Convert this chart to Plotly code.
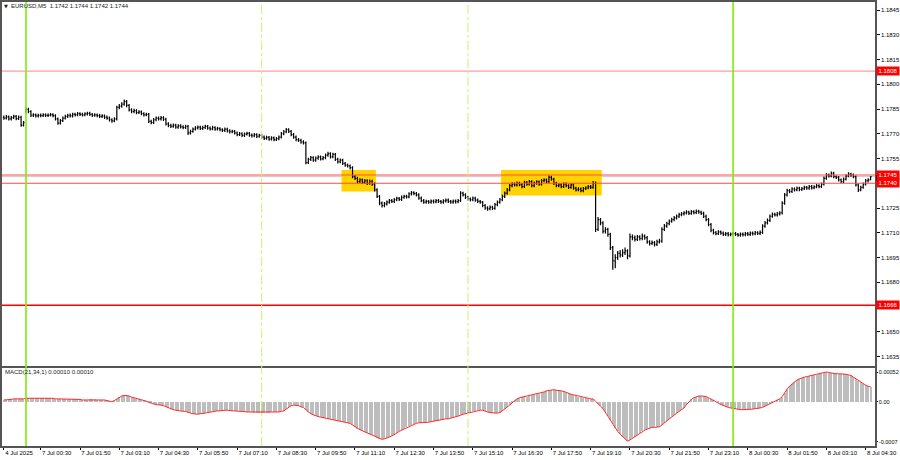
import pandas as pd
import plotly.graph_objects as go

# ---------------- data ----------------
times = [t.strftime("%Y-%m-%d %H:%M") for t in
         list(pd.date_range("2025-07-04 23:15", "2025-07-04 23:55", freq="5min")) +
         list(pd.date_range("2025-07-07 00:00", periods=345, freq="5min"))]

opn = [
1.17800,1.17795,1.17802,1.17790,1.17798,1.17805,1.17792,1.17800,1.17752,1.17835,
1.17848,1.17835,1.17812,1.17815,1.17808,1.17812,1.17810,1.17814,1.17811,1.17813,
1.17816,1.17810,1.17790,1.17765,1.17780,1.17795,1.17805,1.17812,1.17808,1.17818,
1.17815,1.17822,1.17818,1.17815,1.17820,1.17824,1.17818,1.17812,1.17815,1.17810,
1.17805,1.17808,1.17800,1.17795,1.17785,1.17778,1.17790,1.17860,1.17868,1.17880,
1.17895,1.17872,1.17845,1.17835,1.17840,1.17828,1.17832,1.17822,1.17815,1.17818,
1.17775,1.17768,1.17785,1.17795,1.17790,1.17798,1.17788,1.17760,1.17750,1.17745,
1.17752,1.17740,1.17748,1.17742,1.17738,1.17745,1.17705,1.17715,1.17728,1.17735,
1.17740,1.17732,1.17738,1.17745,1.17735,1.17730,1.17738,1.17728,1.17732,1.17725,
1.17720,1.17728,1.17718,1.17712,1.17715,1.17705,1.17695,1.17700,1.17690,1.17698,
1.17702,1.17692,1.17688,1.17695,1.17685,1.17690,1.17680,1.17672,1.17678,1.17668,
1.17675,1.17665,1.17670,1.17680,1.17700,1.17712,1.17725,1.17715,1.17695,1.17680,
1.17665,1.17660,1.17650,1.17645,1.17525,1.17545,1.17555,1.17540,1.17552,1.17560,
1.17548,1.17555,1.17570,1.17580,1.17560,1.17575,1.17545,1.17530,1.17540,1.17520,
1.17510,1.17505,1.17495,1.17440,1.17430,1.17410,1.17420,1.17405,1.17415,1.17400,
1.17412,1.17395,1.17360,1.17320,1.17280,1.17265,1.17275,1.17285,1.17295,1.17290,
1.17300,1.17308,1.17302,1.17315,1.17320,1.17318,1.17335,1.17342,1.17338,1.17330,
1.17310,1.17295,1.17285,1.17290,1.17285,1.17292,1.17288,1.17295,1.17290,1.17285,
1.17293,1.17298,1.17290,1.17285,1.17292,1.17288,1.17295,1.17340,1.17330,1.17315,
1.17305,1.17300,1.17310,1.17298,1.17290,1.17285,1.17265,1.17250,1.17245,1.17255,
1.17248,1.17270,1.17285,1.17300,1.17320,1.17340,1.17360,1.17385,1.17395,1.17390,
1.17400,1.17392,1.17380,1.17405,1.17395,1.17410,1.17385,1.17400,1.17408,1.17395,
1.17415,1.17420,1.17410,1.17435,1.17425,1.17400,1.17385,1.17390,1.17380,1.17395,
1.17385,1.17375,1.17390,1.17370,1.17360,1.17365,1.17355,1.17368,1.17372,1.17380,
1.17375,1.17400,1.17120,1.17180,1.17160,1.17110,1.17120,1.17090,1.17010,1.16930,
1.16950,1.16975,1.16965,1.16980,1.16990,1.16960,1.17075,1.17070,1.17060,1.17075,
1.17065,1.17080,1.17070,1.17045,1.17035,1.17040,1.17030,1.17045,1.17050,1.17120,
1.17140,1.17155,1.17170,1.17180,1.17190,1.17200,1.17210,1.17215,1.17220,1.17225,
1.17218,1.17228,1.17222,1.17230,1.17225,1.17218,1.17200,1.17180,1.17150,1.17115,
1.17100,1.17095,1.17105,1.17098,1.17090,1.17095,1.17088,1.17092,1.17095,1.17090,
1.17085,1.17092,1.17088,1.17095,1.17090,1.17098,1.17094,1.17100,1.17096,1.17102,
1.17140,1.17160,1.17175,1.17200,1.17212,1.17208,1.17215,1.17220,1.17280,1.17330,
1.17355,1.17350,1.17365,1.17360,1.17370,1.17362,1.17368,1.17375,1.17370,1.17380,
1.17372,1.17378,1.17385,1.17380,1.17395,1.17430,1.17450,1.17445,1.17460,1.17440,
1.17435,1.17420,1.17410,1.17425,1.17445,1.17455,1.17450,1.17440,1.17390,1.17360,
1.17375,1.17395,1.17415,1.17420]

high = [
1.17811,1.17813,1.17810,1.17808,1.17815,1.17813,1.17811,1.17809,1.17777,1.17861,
1.17857,1.17843,1.17825,1.17823,1.17821,1.17822,1.17824,1.17823,1.17822,1.17826,
1.17824,1.17818,1.17799,1.17790,1.17804,1.17815,1.17821,1.17822,1.17827,1.17828,
1.17832,1.17831,1.17827,1.17830,1.17834,1.17833,1.17826,1.17825,1.17823,1.17819,
1.17818,1.17816,1.17810,1.17804,1.17794,1.17800,1.17870,1.17880,1.17891,1.17907,
1.17904,1.17881,1.17855,1.17851,1.17849,1.17843,1.17841,1.17831,1.17828,1.17826,
1.17785,1.17795,1.17805,1.17804,1.17808,1.17806,1.17797,1.17769,1.17760,1.17762,
1.17761,1.17758,1.17757,1.17751,1.17755,1.17753,1.17725,1.17738,1.17745,1.17750,
1.17749,1.17748,1.17755,1.17753,1.17744,1.17748,1.17746,1.17742,1.17740,1.17734,
1.17738,1.17736,1.17727,1.17725,1.17723,1.17714,1.17710,1.17709,1.17708,1.17712,
1.17711,1.17701,1.17705,1.17703,1.17700,1.17699,1.17689,1.17688,1.17686,1.17685,
1.17683,1.17680,1.17690,1.17710,1.17722,1.17735,1.17734,1.17723,1.17704,1.17689,
1.17674,1.17669,1.17660,1.17653,1.17555,1.17565,1.17564,1.17562,1.17570,1.17568,
1.17565,1.17581,1.17591,1.17588,1.17585,1.17583,1.17554,1.17550,1.17548,1.17529,
1.17519,1.17514,1.17503,1.17450,1.17439,1.17430,1.17429,1.17425,1.17424,1.17422,
1.17421,1.17404,1.17369,1.17329,1.17290,1.17286,1.17295,1.17305,1.17304,1.17310,
1.17318,1.17317,1.17325,1.17330,1.17330,1.17345,1.17353,1.17351,1.17347,1.17339,
1.17319,1.17304,1.17300,1.17299,1.17302,1.17301,1.17305,1.17304,1.17299,1.17303,
1.17308,1.17307,1.17299,1.17302,1.17301,1.17305,1.17351,1.17349,1.17339,1.17324,
1.17314,1.17320,1.17318,1.17307,1.17299,1.17293,1.17274,1.17260,1.17265,1.17264,
1.17280,1.17295,1.17310,1.17330,1.17350,1.17371,1.17396,1.17406,1.17404,1.17411,
1.17409,1.17401,1.17415,1.17414,1.17420,1.17418,1.17410,1.17418,1.17417,1.17425,
1.17431,1.17429,1.17447,1.17445,1.17433,1.17409,1.17400,1.17399,1.17405,1.17404,
1.17394,1.17400,1.17398,1.17379,1.17375,1.17374,1.17378,1.17382,1.17390,1.17389,
1.17413,1.17410,1.17195,1.17190,1.17170,1.17133,1.17130,1.17100,1.17020,1.16970,
1.16990,1.16995,1.17000,1.17010,1.17000,1.17095,1.17090,1.17083,1.17087,1.17085,
1.17095,1.17090,1.17080,1.17055,1.17053,1.17050,1.17057,1.17063,1.17133,1.17153,
1.17167,1.17181,1.17191,1.17201,1.17211,1.17221,1.17226,1.17231,1.17237,1.17234,
1.17238,1.17237,1.17241,1.17239,1.17234,1.17227,1.17209,1.17189,1.17159,1.17124,
1.17110,1.17115,1.17114,1.17107,1.17105,1.17104,1.17102,1.17105,1.17104,1.17099,
1.17102,1.17101,1.17105,1.17104,1.17108,1.17107,1.17110,1.17109,1.17113,1.17151,
1.17171,1.17186,1.17211,1.17223,1.17221,1.17225,1.17231,1.17291,1.17341,1.17367,
1.17365,1.17375,1.17374,1.17380,1.17379,1.17378,1.17385,1.17384,1.17390,1.17389,
1.17388,1.17395,1.17394,1.17405,1.17441,1.17461,1.17459,1.17471,1.17469,1.17449,
1.17444,1.17429,1.17435,1.17455,1.17466,1.17464,1.17459,1.17449,1.17399,1.17385,
1.17405,1.17425,1.17430,1.17442]

low = [
1.17785,1.17786,1.17781,1.17780,1.17789,1.17782,1.17784,1.17743,1.17744,1.17825,
1.17825,1.17801,1.17802,1.17799,1.17798,1.17800,1.17801,1.17802,1.17801,1.17804,
1.17800,1.17780,1.17755,1.17756,1.17771,1.17786,1.17796,1.17798,1.17799,1.17805,
1.17806,1.17808,1.17805,1.17806,1.17811,1.17808,1.17802,1.17803,1.17800,1.17795,
1.17796,1.17790,1.17785,1.17775,1.17767,1.17769,1.17781,1.17849,1.17857,1.17870,
1.17861,1.17835,1.17825,1.17825,1.17818,1.17819,1.17812,1.17805,1.17806,1.17765,
1.17757,1.17759,1.17776,1.17780,1.17781,1.17778,1.17750,1.17740,1.17735,1.17736,
1.17730,1.17731,1.17732,1.17728,1.17729,1.17693,1.17695,1.17706,1.17719,1.17726,
1.17722,1.17723,1.17729,1.17725,1.17720,1.17721,1.17718,1.17719,1.17715,1.17710,
1.17711,1.17708,1.17702,1.17703,1.17695,1.17685,1.17686,1.17680,1.17681,1.17689,
1.17682,1.17678,1.17679,1.17675,1.17676,1.17670,1.17662,1.17663,1.17658,1.17659,
1.17655,1.17656,1.17661,1.17671,1.17691,1.17703,1.17705,1.17685,1.17670,1.17655,
1.17650,1.17640,1.17635,1.17515,1.17516,1.17535,1.17530,1.17531,1.17543,1.17538,
1.17539,1.17546,1.17561,1.17550,1.17551,1.17535,1.17520,1.17521,1.17510,1.17500,
1.17495,1.17483,1.17430,1.17419,1.17400,1.17401,1.17395,1.17396,1.17390,1.17391,
1.17385,1.17350,1.17310,1.17267,1.17253,1.17255,1.17265,1.17276,1.17280,1.17281,
1.17291,1.17292,1.17293,1.17306,1.17308,1.17309,1.17326,1.17328,1.17320,1.17300,
1.17285,1.17275,1.17276,1.17275,1.17276,1.17278,1.17279,1.17280,1.17275,1.17276,
1.17284,1.17280,1.17275,1.17276,1.17278,1.17279,1.17286,1.17320,1.17305,1.17295,
1.17290,1.17291,1.17288,1.17280,1.17275,1.17255,1.17239,1.17234,1.17236,1.17238,
1.17239,1.17261,1.17276,1.17291,1.17311,1.17331,1.17351,1.17376,1.17380,1.17381,
1.17382,1.17370,1.17371,1.17385,1.17386,1.17375,1.17376,1.17391,1.17385,1.17386,
1.17406,1.17400,1.17401,1.17415,1.17390,1.17375,1.17376,1.17370,1.17371,1.17375,
1.17365,1.17366,1.17360,1.17350,1.17351,1.17345,1.17346,1.17359,1.17363,1.17365,
1.17366,1.17105,1.17110,1.17145,1.17095,1.17095,1.17075,1.16995,1.16875,1.16885,
1.16935,1.16950,1.16953,1.16965,1.16940,1.16950,1.17055,1.17047,1.17050,1.17053,
1.17055,1.17057,1.17033,1.17023,1.17025,1.17017,1.17020,1.17035,1.17040,1.17110,
1.17130,1.17145,1.17160,1.17170,1.17180,1.17190,1.17200,1.17205,1.17210,1.17207,
1.17209,1.17212,1.17213,1.17215,1.17208,1.17190,1.17170,1.17140,1.17103,1.17089,
1.17085,1.17086,1.17088,1.17080,1.17081,1.17078,1.17079,1.17083,1.17080,1.17075,
1.17076,1.17078,1.17079,1.17080,1.17081,1.17084,1.17085,1.17086,1.17087,1.17093,
1.17130,1.17150,1.17165,1.17191,1.17198,1.17199,1.17205,1.17211,1.17270,1.17320,
1.17339,1.17341,1.17350,1.17351,1.17352,1.17353,1.17359,1.17360,1.17361,1.17362,
1.17363,1.17369,1.17370,1.17371,1.17386,1.17421,1.17435,1.17436,1.17430,1.17425,
1.17410,1.17400,1.17401,1.17416,1.17436,1.17440,1.17430,1.17380,1.17347,1.17351,
1.17366,1.17386,1.17405,1.17418]

close = [
1.17795,1.17802,1.17790,1.17798,1.17805,1.17792,1.17800,1.17752,1.17768,1.17848,
1.17835,1.17812,1.17815,1.17808,1.17812,1.17810,1.17814,1.17811,1.17813,1.17816,
1.17810,1.17790,1.17765,1.17780,1.17795,1.17805,1.17812,1.17808,1.17818,1.17815,
1.17822,1.17818,1.17815,1.17820,1.17824,1.17818,1.17812,1.17815,1.17810,1.17805,
1.17808,1.17800,1.17795,1.17785,1.17778,1.17790,1.17860,1.17868,1.17880,1.17895,
1.17872,1.17845,1.17835,1.17840,1.17828,1.17832,1.17822,1.17815,1.17818,1.17775,
1.17768,1.17785,1.17795,1.17790,1.17798,1.17788,1.17760,1.17750,1.17745,1.17752,
1.17740,1.17748,1.17742,1.17738,1.17745,1.17705,1.17715,1.17728,1.17735,1.17740,
1.17732,1.17738,1.17745,1.17735,1.17730,1.17738,1.17728,1.17732,1.17725,1.17720,
1.17728,1.17718,1.17712,1.17715,1.17705,1.17695,1.17700,1.17690,1.17698,1.17702,
1.17692,1.17688,1.17695,1.17685,1.17690,1.17680,1.17672,1.17678,1.17668,1.17675,
1.17665,1.17670,1.17680,1.17700,1.17712,1.17725,1.17715,1.17695,1.17680,1.17665,
1.17660,1.17650,1.17645,1.17525,1.17545,1.17555,1.17540,1.17552,1.17560,1.17548,
1.17555,1.17570,1.17580,1.17560,1.17575,1.17545,1.17530,1.17540,1.17520,1.17510,
1.17505,1.17495,1.17440,1.17430,1.17410,1.17420,1.17405,1.17415,1.17400,1.17412,
1.17395,1.17360,1.17320,1.17280,1.17265,1.17275,1.17285,1.17295,1.17290,1.17300,
1.17308,1.17302,1.17315,1.17320,1.17318,1.17335,1.17342,1.17338,1.17330,1.17310,
1.17295,1.17285,1.17290,1.17285,1.17292,1.17288,1.17295,1.17290,1.17285,1.17293,
1.17298,1.17290,1.17285,1.17292,1.17288,1.17295,1.17340,1.17330,1.17315,1.17305,
1.17300,1.17310,1.17298,1.17290,1.17285,1.17265,1.17250,1.17245,1.17255,1.17248,
1.17270,1.17285,1.17300,1.17320,1.17340,1.17360,1.17385,1.17395,1.17390,1.17400,
1.17392,1.17380,1.17405,1.17395,1.17410,1.17385,1.17400,1.17408,1.17395,1.17415,
1.17420,1.17410,1.17435,1.17425,1.17400,1.17385,1.17390,1.17380,1.17395,1.17385,
1.17375,1.17390,1.17370,1.17360,1.17365,1.17355,1.17368,1.17372,1.17380,1.17375,
1.17400,1.17120,1.17180,1.17160,1.17110,1.17120,1.17090,1.17010,1.16930,1.16950,
1.16975,1.16965,1.16980,1.16990,1.16960,1.17075,1.17070,1.17060,1.17075,1.17065,
1.17080,1.17070,1.17045,1.17035,1.17040,1.17030,1.17045,1.17050,1.17120,1.17140,
1.17155,1.17170,1.17180,1.17190,1.17200,1.17210,1.17215,1.17220,1.17225,1.17218,
1.17228,1.17222,1.17230,1.17225,1.17218,1.17200,1.17180,1.17150,1.17115,1.17100,
1.17095,1.17105,1.17098,1.17090,1.17095,1.17088,1.17092,1.17095,1.17090,1.17085,
1.17092,1.17088,1.17095,1.17090,1.17098,1.17094,1.17100,1.17096,1.17102,1.17140,
1.17160,1.17175,1.17200,1.17212,1.17208,1.17215,1.17220,1.17280,1.17330,1.17355,
1.17350,1.17365,1.17360,1.17370,1.17362,1.17368,1.17375,1.17370,1.17380,1.17372,
1.17378,1.17385,1.17380,1.17395,1.17430,1.17450,1.17445,1.17460,1.17440,1.17435,
1.17420,1.17410,1.17425,1.17445,1.17455,1.17450,1.17440,1.17390,1.17360,1.17375,
1.17395,1.17415,1.17420,1.17440]

macd = [
0.00003,0.00003,0.00004,0.00004,0.00005,0.00005,0.00005,0.00004,0.00005,0.00006,
0.00006,0.00007,0.00007,0.00007,0.00007,0.00007,0.00007,0.00006,0.00006,0.00006,0.00006,0.00005,0.00005,0.00005,
0.00004,0.00004,0.00004,0.00004,0.00004,0.00004,0.00004,0.00004,0.00003,0.00003,0.00003,0.00004,0.00004,0.00004,0.00003,0.00003,0.00003,0.00003,
0.00002,0.00001,0.00000,
0.00002,0.00005,0.00008,0.00010,0.00011,0.00011,
0.00010,0.00008,0.00007,0.00005,0.00004,0.00003,0.00002,0.00001,
-0.00001,-0.00003,-0.00004,-0.00005,-0.00005,-0.00006,-0.00007,-0.00009,
-0.00011,-0.00013,-0.00014,-0.00015,-0.00016,-0.00016,-0.00017,-0.00017,
-0.00019,-0.00020,-0.00021,-0.00022,-0.00022,-0.00021,-0.00021,
-0.00020,-0.00019,-0.00018,-0.00017,-0.00017,-0.00016,-0.00016,-0.00015,-0.00015,-0.00015,-0.00016,-0.00016,
-0.00016,-0.00017,-0.00017,-0.00017,-0.00018,-0.00018,-0.00018,-0.00018,-0.00019,-0.00019,-0.00019,
-0.00019,-0.00019,-0.00019,-0.00019,-0.00018,-0.00018,-0.00018,-0.00018,-0.00017,-0.00016,
-0.00013,-0.00010,-0.00007,-0.00006,-0.00006,-0.00007,-0.00009,-0.00010,
-0.00014,-0.00018,-0.00021,-0.00023,-0.00025,-0.00026,-0.00027,
-0.00028,-0.00029,-0.00030,-0.00031,-0.00032,-0.00032,-0.00033,-0.00034,-0.00035,-0.00036,-0.00037,-0.00038,
-0.00041,-0.00044,-0.00047,-0.00049,-0.00051,-0.00053,-0.00055,-0.00057,-0.00058,-0.00060,-0.00063,-0.00065,-0.00066,
-0.00065,-0.00064,-0.00062,-0.00060,-0.00058,-0.00055,-0.00052,-0.00050,-0.00047,-0.00045,-0.00043,-0.00041,-0.00039,-0.00038,
-0.00037,-0.00037,-0.00037,-0.00036,-0.00036,-0.00035,-0.00034,-0.00033,-0.00033,-0.00032,-0.00031,-0.00030,-0.00030,-0.00029,
-0.00028,-0.00027,-0.00025,-0.00024,-0.00022,-0.00021,-0.00020,
-0.00018,-0.00017,-0.00016,-0.00015,-0.00015,-0.00015,
-0.00017,-0.00018,-0.00019,-0.00020,-0.00020,-0.00020,-0.00019,
-0.00016,-0.00013,-0.00010,-0.00006,
-0.00002,0.00002,0.00005,0.00007,
0.00008,0.00009,0.00009,0.00010,
0.00012,0.00013,0.00014,0.00014,
0.00015,0.00017,0.00019,0.00020,
0.00021,0.00021,0.00020,0.00020,0.00019,
0.00018,0.00016,0.00015,0.00013,0.00012,0.00011,
0.00009,0.00008,0.00007,0.00006,0.00005,0.00005,0.00005,
0.00000,-0.00004,-0.00008,-0.00012,
-0.00018,-0.00025,-0.00032,-0.00039,-0.00046,-0.00052,-0.00057,-0.00061,
-0.00066,-0.00069,
-0.00067,-0.00064,-0.00061,-0.00058,-0.00055,-0.00052,-0.00050,-0.00048,-0.00046,
-0.00045,-0.00045,-0.00045,-0.00044,
-0.00041,-0.00037,-0.00033,-0.00030,-0.00027,-0.00023,-0.00020,-0.00017,-0.00014,-0.00011,
-0.00005,0.00000,
0.00004,0.00007,0.00009,0.00010,0.00010,0.00010,
0.00009,0.00007,0.00005,0.00002,0.00000,
-0.00003,-0.00005,-0.00007,-0.00009,-0.00010,-0.00011,-0.00012,
-0.00013,-0.00013,-0.00014,-0.00014,-0.00014,-0.00014,-0.00013,
-0.00013,-0.00012,-0.00012,-0.00011,-0.00010,
-0.00008,-0.00006,-0.00004,-0.00002,0.00000,0.00002,
0.00005,0.00009,
0.00016,0.00022,0.00027,0.00031,
0.00035,0.00038,0.00040,0.00042,
0.00043,0.00044,0.00045,0.00046,0.00046,0.00047,
0.00048,0.00050,0.00051,0.00052,
0.00051,0.00050,0.00050,0.00049,0.00049,0.00049,0.00048,0.00048,0.00047,0.00046,
0.00043,0.00040,0.00037,0.00034,
0.00031,0.00029,0.00027,0.00026]
signal = list(macd)  # MACD(21,34,1): signal period 1

price_ticks = [1.1635, 1.1650, 1.1665, 1.1680, 1.1695, 1.1710, 1.1725, 1.1740,
               1.1755, 1.1770, 1.1785, 1.1800, 1.1815, 1.1830, 1.1845]
# labels hidden under level boxes in the original are left blank
price_tick_text = ["1.1635", "1.1650", "", "1.1680", "1.1695", "1.1710", "1.1725", "",
                   "1.1755", "1.1770", "1.1785", "1.1800", "1.1815", "1.1830", "1.1845"]
macd_ticks = [0.00052, 0.0, -0.0007]
macd_tick_text = ["0.00052", "0.00", "-0.0007"]

levels = [1.1808, 1.1745, 1.1740, 1.1666]
day_marks = ["2025-07-07 00:00", "2025-07-08 00:00"]
session_marks = ["2025-07-07 08:00", "2025-07-07 15:00"]
zone_start = ["2025-07-07 10:45", "2025-07-07 16:10"]
zone_end = ["2025-07-07 11:50", "2025-07-07 19:30"]
zone_top = [1.17480, 1.17480]
zone_bottom = [1.17350, 1.17325]

# x tick labels (MT4 style)
tick_idx = [0] + list(range(15, len(times), 16))
tick_vals = [times[k] for k in tick_idx]
tick_text = []
for k in tick_idx:
    t = pd.Timestamp(times[k])
    tick_text.append(f"{t.day} {t:%b} {t:%Y}" if k == 0 else f"{t.day} {t:%b} {t:%H:%M}")

# ---------------- styling / geometry ----------------
W, H = 900, 460
FONT = "Liberation Sans, Arial, sans-serif"
X_DOM = [2 / W, 875 / W]
Y_MAIN = [(H - 366) / H, (H - 2) / H]
Y_MACD = [(H - 446) / H, (H - 368) / H]
FRAME = "#555555"

fig = go.Figure()
fig.add_trace(go.Ohlc(
    x=times, open=opn, high=high, low=low, close=close,
    increasing=dict(line=dict(color="#000000", width=1.2)),
    decreasing=dict(line=dict(color="#000000", width=1.2)),
    tickwidth=0.4, xaxis="x", yaxis="y", hoverinfo="skip", showlegend=False))
fig.add_trace(go.Bar(
    x=times, y=macd, width=0.45, marker=dict(color="#bdbdbd", line=dict(width=0)),
    xaxis="x2", yaxis="y2", hoverinfo="skip", showlegend=False))
fig.add_trace(go.Scatter(
    x=times, y=signal, mode="lines", line=dict(color="#ff2a2a", width=1),
    xaxis="x2", yaxis="y2", hoverinfo="skip", showlegend=False))

shapes = []
for s, e, t, b in zip(zone_start, zone_end, zone_top, zone_bottom):
    shapes.append(dict(type="rect", xref="x", yref="y",
                       x0=times.index(s) - 0.5, x1=times.index(e) + 0.5, y0=b, y1=t,
                       fillcolor="#ffd200", line=dict(width=0), layer="below"))
level_styles = [("#ff9c9c", 1.3), ("#ff4a4a", 1), ("#ff4a4a", 1), ("#ff0000", 1.5)]
for lv, (col, wd) in zip(levels, level_styles):
    shapes.append(dict(type="line", xref="paper", yref="y", x0=X_DOM[0], x1=X_DOM[1],
                       y0=lv, y1=lv, line=dict(color=col, width=wd)))
# bid line and its (mostly hidden) black price marker on the axis
shapes.append(dict(type="line", xref="paper", yref="y", x0=X_DOM[0], x1=X_DOM[1],
                   y0=close[-1], y1=close[-1], line=dict(color="#c8c8c8", width=1), layer="below"))
shapes.append(dict(type="rect", xref="paper", yref="y", x0=876 / W, x1=899 / W,
                   y0=close[-1] - 0.00028, y1=close[-1] + 0.00010,
                   fillcolor="#000000", line=dict(width=0)))
for d in day_marks:
    k = times.index(d)
    shapes.append(dict(type="line", xref="x", yref="paper", x0=k, x1=k,
                       y0=Y_MACD[0], y1=Y_MAIN[1], line=dict(color="#7cf000", width=1.6)))
for d in session_marks:
    k = times.index(d)
    shapes.append(dict(type="line", xref="x", yref="paper", x0=k, x1=k,
                       y0=Y_MACD[0], y1=Y_MAIN[1], line=dict(color="#c6f56a", width=1, dash="dashdot")))

annotations = []
for lv in levels:
    annotations.append(dict(xref="paper", yref="y", x=876 / W, y=lv, xanchor="left",
                            yanchor="middle", text=f"{lv:.4f}", showarrow=False,
                            font=dict(family=FONT, size=6, color="white"), bgcolor="#ff0000",
                            borderpad=1, width=20))
annotations.append(dict(xref="paper", yref="paper", x=1.5 / W, y=1 - 6 / H, xanchor="left",
                        yanchor="middle", text="▼", showarrow=False,
                        font=dict(family="DejaVu Sans", size=5, color="#202020")))
annotations.append(dict(xref="paper", yref="paper", x=9 / W, y=1 - 6 / H, xanchor="left",
                        yanchor="middle",
                        text=f"EURUSD,M5  {opn[-1]:.4f} {high[-1]:.4f} {low[-1]:.4f} {close[-1]:.4f}",
                        showarrow=False, font=dict(family=FONT, size=6, color="#202020")))
annotations.append(dict(xref="paper", yref="paper", x=3 / W, y=1 - 372 / H, xanchor="left",
                        yanchor="middle", text="MACD(21,34,1) 0.00010 0.00010", showarrow=False,
                        font=dict(family=FONT, size=6, color="#202020")))

axis_common = dict(showgrid=False, zeroline=False, showline=True, linecolor=FRAME,
                   linewidth=1.5, mirror=True, automargin=False)

fig.update_layout(
    width=W, height=H, margin=dict(l=0, r=0, t=0, b=0, autoexpand=False),
    paper_bgcolor="white", plot_bgcolor="white", showlegend=False,
    xaxis=dict(type="category", domain=X_DOM, range=[-0.77, 354.8], anchor="y",
               rangeslider=dict(visible=False), showticklabels=False, ticks="",
               **axis_common),
    yaxis=dict(domain=Y_MAIN, range=[1.162924, 1.184985], side="right", anchor="x",
               tickvals=price_ticks, ticktext=price_tick_text,
               ticks="outside", ticklen=3, tickcolor="#000000",
               tickfont=dict(family=FONT, size=6, color="#000000"), **axis_common),
    xaxis2=dict(type="category", domain=X_DOM, matches="x", anchor="y2",
                tickvals=tick_vals, ticktext=tick_text, ticks="outside", ticklen=2,
                tickcolor="#000000", ticklabelposition="outside right",
                tickfont=dict(family=FONT, size=6, color="#000000"), tickangle=0,
                **axis_common),
    yaxis2=dict(domain=Y_MACD, range=[-0.000776, 0.00059], side="right", anchor="x2",
                tickvals=macd_ticks, ticktext=macd_tick_text, ticks="outside", ticklen=1,
                tickcolor="#000000", tickfont=dict(family=FONT, size=5.5, color="#000000"),
                ticklabelstandoff=0, **axis_common),
    shapes=shapes, annotations=annotations, bargap=0,
)

fig.write_html("out.html", config={"displayModeBar": False},
               post_script="document.body.style.margin='0';")
